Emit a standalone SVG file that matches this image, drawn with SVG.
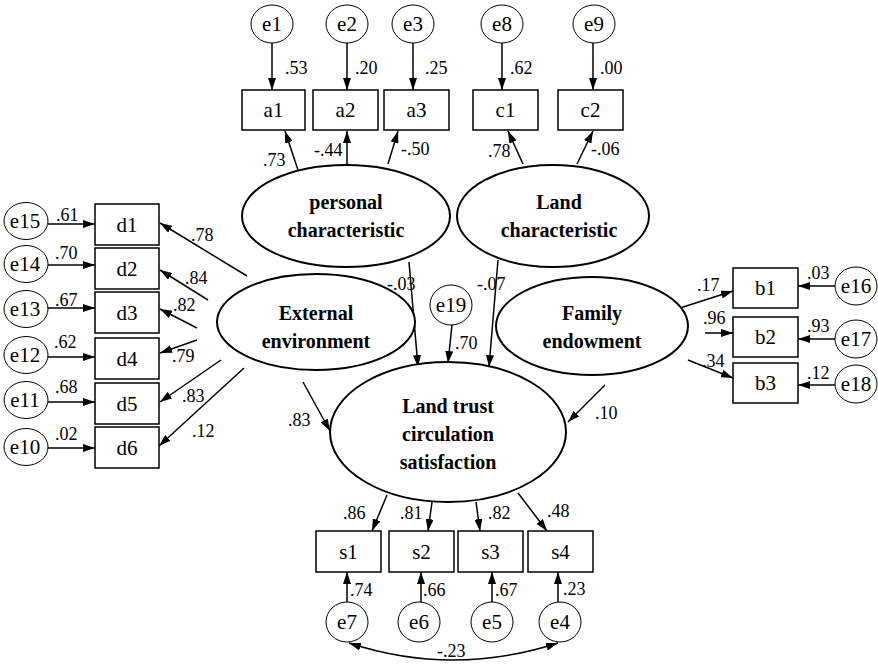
<svg xmlns="http://www.w3.org/2000/svg" width="878" height="664" viewBox="0 0 878 664" font-family="Liberation Serif, Times New Roman, DejaVu Serif, serif">
  <style>
    .bg { fill: #ffffff; }
    .lat { fill: #ffffff; stroke: #000; stroke-width: 2; }
    .obs { fill: #ffffff; stroke: #000; stroke-width: 1.5; }
    .err { fill: #ffffff; stroke: #000; stroke-width: 1; }
    .edge { fill: none; stroke: #000; stroke-width: 1.5; }
    .lbl { font-size: 21px; text-anchor: middle; }
    .big { font-size: 20px; font-weight: bold; text-anchor: middle; }
    .num { font-size: 18px; }
  </style>
  <defs>
    <marker id="ah" viewBox="0 0 12 8" refX="12" refY="4" markerWidth="12" markerHeight="8" orient="auto-start-reverse" markerUnits="userSpaceOnUse">
      <path d="M0,0 L12,4 L0,8 z" fill="#000"/>
    </marker>
  </defs>
  <rect class="bg" x="0" y="0" width="878" height="664"/>

  <!-- paths between nodes -->
  <g id="connectors">
    <!-- error terms to top indicators -->
    <line class="edge" x1="272" y1="43" x2="272" y2="90" marker-end="url(#ah)"/>
    <line class="edge" x1="347" y1="43" x2="347" y2="90" marker-end="url(#ah)"/>
    <line class="edge" x1="413" y1="43" x2="413" y2="90" marker-end="url(#ah)"/>
    <line class="edge" x1="502" y1="43" x2="502" y2="90" marker-end="url(#ah)"/>
    <line class="edge" x1="593" y1="43" x2="593" y2="90" marker-end="url(#ah)"/>
    <!-- personal characteristic loadings -->
    <line class="edge" x1="298" y1="170" x2="285" y2="131" marker-end="url(#ah)"/>
    <line class="edge" x1="347" y1="164" x2="347" y2="131" marker-end="url(#ah)"/>
    <line class="edge" x1="388" y1="164" x2="398" y2="131" marker-end="url(#ah)"/>
    <!-- land characteristic loadings -->
    <line class="edge" x1="523" y1="164" x2="508" y2="131" marker-end="url(#ah)"/>
    <line class="edge" x1="577" y1="164" x2="593" y2="131" marker-end="url(#ah)"/>
    <!-- error terms to d indicators -->
    <line class="edge" x1="48" y1="224" x2="95" y2="224" marker-end="url(#ah)"/>
    <line class="edge" x1="48" y1="265" x2="95" y2="265" marker-end="url(#ah)"/>
    <line class="edge" x1="48" y1="308" x2="95" y2="308" marker-end="url(#ah)"/>
    <line class="edge" x1="48" y1="357" x2="95" y2="357" marker-end="url(#ah)"/>
    <line class="edge" x1="48" y1="402" x2="95" y2="402" marker-end="url(#ah)"/>
    <line class="edge" x1="48" y1="448" x2="95" y2="448" marker-end="url(#ah)"/>
    <!-- external environment loadings -->
    <line class="edge" x1="247" y1="276" x2="160" y2="223" marker-end="url(#ah)"/>
    <line class="edge" x1="208" y1="300" x2="160" y2="270" marker-end="url(#ah)"/>
    <line class="edge" x1="197" y1="328" x2="160" y2="309" marker-end="url(#ah)"/>
    <line class="edge" x1="197" y1="340" x2="160" y2="353" marker-end="url(#ah)"/>
    <line class="edge" x1="221" y1="360" x2="160" y2="402" marker-end="url(#ah)"/>
    <line class="edge" x1="244" y1="368" x2="159" y2="446" marker-end="url(#ah)"/>
    <!-- family endowment loadings -->
    <line class="edge" x1="680" y1="308" x2="733" y2="291" marker-end="url(#ah)"/>
    <line class="edge" x1="705" y1="333" x2="733" y2="333" marker-end="url(#ah)"/>
    <line class="edge" x1="688" y1="360" x2="733" y2="378" marker-end="url(#ah)"/>
    <!-- error terms to b indicators -->
    <line class="edge" x1="835" y1="286" x2="798" y2="286" marker-end="url(#ah)"/>
    <line class="edge" x1="835" y1="339" x2="798" y2="339" marker-end="url(#ah)"/>
    <line class="edge" x1="835" y1="385" x2="798" y2="385" marker-end="url(#ah)"/>
    <!-- structural paths into satisfaction -->
    <line class="edge" x1="409" y1="262" x2="418" y2="367" marker-end="url(#ah)"/>
    <line class="edge" x1="498" y1="260" x2="489" y2="367" marker-end="url(#ah)"/>
    <line class="edge" x1="452" y1="325" x2="448" y2="363" marker-end="url(#ah)"/>
    <line class="edge" x1="303" y1="382" x2="330" y2="431" marker-end="url(#ah)"/>
    <line class="edge" x1="605" y1="385" x2="568" y2="422" marker-end="url(#ah)"/>
    <!-- satisfaction loadings -->
    <line class="edge" x1="387" y1="495" x2="372" y2="531" marker-end="url(#ah)"/>
    <line class="edge" x1="432" y1="502" x2="428" y2="531" marker-end="url(#ah)"/>
    <line class="edge" x1="476" y1="502" x2="480" y2="531" marker-end="url(#ah)"/>
    <line class="edge" x1="518" y1="493" x2="547" y2="531" marker-end="url(#ah)"/>
    <!-- error terms to s indicators -->
    <line class="edge" x1="347" y1="602" x2="347" y2="572" marker-end="url(#ah)"/>
    <line class="edge" x1="421" y1="602" x2="421" y2="572" marker-end="url(#ah)"/>
    <line class="edge" x1="492" y1="602" x2="492" y2="572" marker-end="url(#ah)"/>
    <line class="edge" x1="558" y1="602" x2="558" y2="572" marker-end="url(#ah)"/>
    <!-- covariance e7 - e4 -->
    <path class="edge" d="M349,643 Q453,677 558,643" marker-start="url(#ah)" marker-end="url(#ah)"/>
  </g>

  <!-- coefficient labels -->
  <g id="coefficients">
    <text class="num" x="285" y="74">.53</text>
    <text class="num" x="355" y="74">.20</text>
    <text class="num" x="425" y="74">.25</text>
    <text class="num" x="510" y="74">.62</text>
    <text class="num" x="600" y="74">.00</text>
    <text class="num" x="263" y="166">.73</text>
    <text class="num" x="314" y="156">-.44</text>
    <text class="num" x="401" y="155">-.50</text>
    <text class="num" x="488" y="157">.78</text>
    <text class="num" x="591" y="155">-.06</text>
    <text class="num" x="56" y="221">.61</text>
    <text class="num" x="55" y="259">.70</text>
    <text class="num" x="55" y="306">.67</text>
    <text class="num" x="54" y="348">.62</text>
    <text class="num" x="55" y="393">.68</text>
    <text class="num" x="55" y="440">.02</text>
    <text class="num" x="191" y="241">.78</text>
    <text class="num" x="185" y="284">.84</text>
    <text class="num" x="173" y="311">.82</text>
    <text class="num" x="172" y="362">.79</text>
    <text class="num" x="182" y="402">.83</text>
    <text class="num" x="192" y="437">.12</text>
    <text class="num" x="288" y="426">.83</text>
    <text class="num" x="387" y="290">-.03</text>
    <text class="num" x="477" y="290">-.07</text>
    <text class="num" x="455" y="349">.70</text>
    <text class="num" x="697" y="291">.17</text>
    <text class="num" x="703" y="324">.96</text>
    <text class="num" x="702" y="367">.34</text>
    <text class="num" x="807" y="279">.03</text>
    <text class="num" x="807" y="332">.93</text>
    <text class="num" x="807" y="379">.12</text>
    <text class="num" x="595" y="419">.10</text>
    <text class="num" x="343" y="519">.86</text>
    <text class="num" x="400" y="519">.81</text>
    <text class="num" x="488" y="519">.82</text>
    <text class="num" x="547" y="517">.48</text>
    <text class="num" x="350" y="596">.74</text>
    <text class="num" x="423" y="596">.66</text>
    <text class="num" x="495" y="596">.67</text>
    <text class="num" x="563" y="595">.23</text>
    <text class="num" x="437" y="657">-.23</text>
  </g>

  <!-- latent variables -->
  <g id="personal">
    <ellipse class="lat" cx="346" cy="216" rx="104" ry="51"/>
    <text class="big" x="346" y="209">personal</text>
    <text class="big" x="346" y="237">characteristic</text>
  </g>
  <g id="land">
    <ellipse class="lat" cx="553" cy="216" rx="96" ry="51"/>
    <text class="big" x="559" y="209">Land</text>
    <text class="big" x="559" y="237">characteristic</text>
  </g>
  <g id="external">
    <ellipse class="lat" cx="316" cy="322" rx="99" ry="48"/>
    <text class="big" x="316" y="320">External</text>
    <text class="big" x="316" y="348">environment</text>
  </g>
  <g id="family">
    <ellipse class="lat" cx="592" cy="326" rx="96" ry="49"/>
    <text class="big" x="592" y="320">Family</text>
    <text class="big" x="592" y="348">endowment</text>
  </g>
  <g id="satisfaction">
    <ellipse class="lat" cx="448" cy="432" rx="118" ry="70"/>
    <text class="big" x="448" y="413">Land trust</text>
    <text class="big" x="448" y="441">circulation</text>
    <text class="big" x="448" y="469">satisfaction</text>
  </g>

  <!-- observed indicators -->
  <g id="a1"><rect class="obs" x="242" y="90" width="63" height="40"/><text class="lbl" x="273.5" y="117">a1</text></g>
  <g id="a2"><rect class="obs" x="313" y="90" width="65" height="40"/><text class="lbl" x="345.5" y="117">a2</text></g>
  <g id="a3"><rect class="obs" x="384" y="90" width="65" height="40"/><text class="lbl" x="416.5" y="117">a3</text></g>
  <g id="c1"><rect class="obs" x="473" y="90" width="65" height="40"/><text class="lbl" x="505.5" y="117">c1</text></g>
  <g id="c2"><rect class="obs" x="558" y="90" width="65" height="40"/><text class="lbl" x="590.5" y="117">c2</text></g>

  <g id="d1"><rect class="obs" x="95" y="204" width="64" height="41"/><text class="lbl" x="127" y="232">d1</text></g>
  <g id="d2"><rect class="obs" x="95" y="248" width="64" height="41"/><text class="lbl" x="127" y="276">d2</text></g>
  <g id="d3"><rect class="obs" x="95" y="292" width="64" height="41"/><text class="lbl" x="127" y="320">d3</text></g>
  <g id="d4"><rect class="obs" x="95" y="338" width="64" height="41"/><text class="lbl" x="127" y="366">d4</text></g>
  <g id="d5"><rect class="obs" x="95" y="383" width="64" height="41"/><text class="lbl" x="127" y="411">d5</text></g>
  <g id="d6"><rect class="obs" x="95" y="427" width="64" height="41"/><text class="lbl" x="127" y="455">d6</text></g>

  <g id="b1"><rect class="obs" x="733" y="268" width="65" height="40"/><text class="lbl" x="765.5" y="295">b1</text></g>
  <g id="b2"><rect class="obs" x="733" y="317" width="65" height="40"/><text class="lbl" x="765.5" y="344">b2</text></g>
  <g id="b3"><rect class="obs" x="733" y="363" width="65" height="40"/><text class="lbl" x="765.5" y="390">b3</text></g>

  <g id="s1"><rect class="obs" x="316" y="531" width="65" height="41"/><text class="lbl" x="348.5" y="559">s1</text></g>
  <g id="s2"><rect class="obs" x="389" y="531" width="65" height="41"/><text class="lbl" x="421.5" y="559">s2</text></g>
  <g id="s3"><rect class="obs" x="458" y="531" width="65" height="41"/><text class="lbl" x="490.5" y="559">s3</text></g>
  <g id="s4"><rect class="obs" x="528" y="531" width="65" height="41"/><text class="lbl" x="560.5" y="559">s4</text></g>

  <!-- error terms -->
  <g id="e1"><ellipse class="err" cx="272" cy="24" rx="21" ry="19"/><text class="lbl" x="272" y="31">e1</text></g>
  <g id="e2"><ellipse class="err" cx="347" cy="24" rx="21" ry="19"/><text class="lbl" x="347" y="31">e2</text></g>
  <g id="e3"><ellipse class="err" cx="413" cy="24" rx="21" ry="19"/><text class="lbl" x="413" y="31">e3</text></g>
  <g id="e8"><ellipse class="err" cx="502" cy="24" rx="21" ry="19"/><text class="lbl" x="502" y="31">e8</text></g>
  <g id="e9"><ellipse class="err" cx="594" cy="24" rx="21" ry="19"/><text class="lbl" x="594" y="31">e9</text></g>

  <g id="e15"><ellipse class="err" cx="26" cy="221" rx="22" ry="18.5"/><text class="lbl" x="25" y="228">e15</text></g>
  <g id="e14"><ellipse class="err" cx="26" cy="264" rx="22" ry="18.5"/><text class="lbl" x="25" y="271">e14</text></g>
  <g id="e13"><ellipse class="err" cx="26" cy="309" rx="22" ry="18.5"/><text class="lbl" x="25" y="316">e13</text></g>
  <g id="e12"><ellipse class="err" cx="26" cy="355" rx="22" ry="18.5"/><text class="lbl" x="25" y="362">e12</text></g>
  <g id="e11"><ellipse class="err" cx="26" cy="400" rx="22" ry="18.5"/><text class="lbl" x="25" y="407">e11</text></g>
  <g id="e10"><ellipse class="err" cx="26" cy="447" rx="22" ry="18.5"/><text class="lbl" x="25" y="454">e10</text></g>

  <g id="e16"><ellipse class="err" cx="856" cy="286" rx="21" ry="19"/><text class="lbl" x="856" y="293">e16</text></g>
  <g id="e17"><ellipse class="err" cx="856" cy="339" rx="21" ry="19"/><text class="lbl" x="856" y="346">e17</text></g>
  <g id="e18"><ellipse class="err" cx="856" cy="384" rx="21" ry="19"/><text class="lbl" x="856" y="391">e18</text></g>

  <g id="e19"><ellipse class="err" cx="451" cy="305" rx="21" ry="20"/><text class="lbl" x="451" y="312">e19</text></g>

  <g id="e7"><ellipse class="err" cx="347" cy="622" rx="21" ry="20"/><text class="lbl" x="347" y="629">e7</text></g>
  <g id="e6"><ellipse class="err" cx="419" cy="622" rx="21" ry="20"/><text class="lbl" x="419" y="629">e6</text></g>
  <g id="e5"><ellipse class="err" cx="492" cy="622" rx="21" ry="20"/><text class="lbl" x="492" y="629">e5</text></g>
  <g id="e4"><ellipse class="err" cx="560" cy="622" rx="21" ry="20"/><text class="lbl" x="560" y="629">e4</text></g>
</svg>
